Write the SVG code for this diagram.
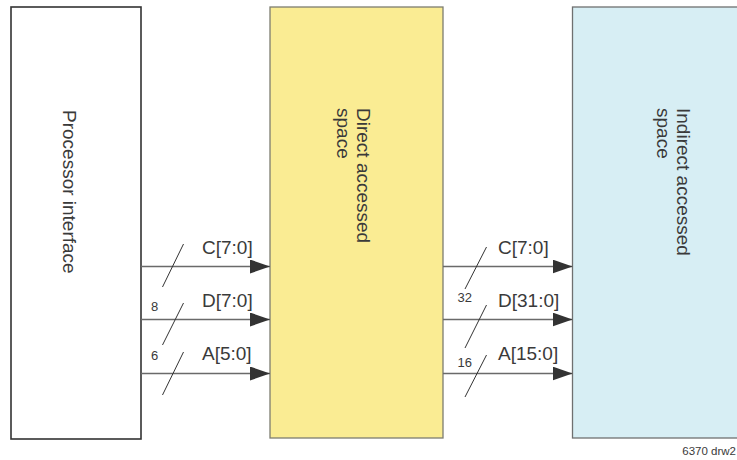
<svg xmlns="http://www.w3.org/2000/svg" width="737" height="460" viewBox="0 0 737 460">
<style>
  .lbl { font-family: "Liberation Sans", Arial, sans-serif; font-size: 19px; fill: #3a3a3a; }
  .num { font-family: "Liberation Sans", Arial, sans-serif; font-size: 13px; fill: #3a3a3a; }
  .foot { font-family: "Liberation Sans", Arial, sans-serif; font-size: 11.5px; fill: #3a3a3a; }
  .bus { stroke: #6a6a6a; stroke-width: 1.3; fill: none; marker-end: url(#arr); }
  .slash { stroke: #333333; stroke-width: 1; fill: none; }
</style>
<defs>
  <marker id="arr" markerUnits="userSpaceOnUse" markerWidth="20" markerHeight="14" refX="20" refY="7" orient="auto">
    <path d="M0,0 L20,7 L0,14 z" fill="#333333"/>
  </marker>
</defs>
<rect width="737" height="460" fill="#ffffff"/>

<g id="processor">
  <rect x="11" y="7" width="130" height="432" fill="#ffffff" stroke="#333333" stroke-width="1.6"/>
  <text class="lbl" transform="translate(63,110) rotate(90)">Processor interface</text>
</g>

<g id="direct">
  <rect x="270" y="7" width="173" height="431" fill="#FAEC93" stroke="#7d7d70" stroke-width="1.3"/>
  <text class="lbl" transform="translate(357,108) rotate(90)">Direct accessed</text>
  <text class="lbl" transform="translate(337,108) rotate(90)">space</text>
</g>

<g id="indirect">
  <rect x="572.5" y="7" width="200" height="431" fill="#D7EEF4" stroke="#6f7070" stroke-width="1.3"/>
  <text class="lbl" transform="translate(677,108) rotate(90)">Indirect accessed</text>
  <text class="lbl" transform="translate(657,108) rotate(90)">space</text>
</g>

<g id="connectors">
  <line class="bus" x1="141" y1="266.5" x2="270" y2="266.5"/>
  <line class="bus" x1="141" y1="319.5" x2="270" y2="319.5"/>
  <line class="bus" x1="141" y1="373.5" x2="270" y2="373.5"/>
  <line class="slash" x1="183.5" y1="244" x2="162.5" y2="287"/>
  <line class="slash" x1="183.5" y1="303" x2="162.5" y2="345"/>
  <line class="slash" x1="183.5" y1="352" x2="162.5" y2="395"/>

  <line class="bus" x1="443" y1="266.5" x2="572.5" y2="266.5"/>
  <line class="bus" x1="443" y1="319.5" x2="572.5" y2="319.5"/>
  <line class="bus" x1="443" y1="373.5" x2="572.5" y2="373.5"/>
  <line class="slash" x1="486.5" y1="247" x2="465" y2="289"/>
  <line class="slash" x1="486.5" y1="305" x2="465" y2="348"/>
  <line class="slash" x1="486.5" y1="355" x2="465" y2="397"/>
</g>

<g id="labels">
  <text class="lbl" x="202" y="254">C[7:0]</text>
  <text class="lbl" x="202" y="307">D[7:0]</text>
  <text class="lbl" x="202" y="360">A[5:0]</text>
  <text class="num" x="151" y="311">8</text>
  <text class="num" x="151" y="360">6</text>

  <text class="lbl" x="498" y="254">C[7:0]</text>
  <text class="lbl" x="498" y="307">D[31:0]</text>
  <text class="lbl" x="498" y="360">A[15:0]</text>
  <text class="num" x="457.5" y="302">32</text>
  <text class="num" x="457.5" y="367">16</text>

  <text class="foot" x="736" y="455" text-anchor="end">6370 drw2</text>
</g>
</svg>
